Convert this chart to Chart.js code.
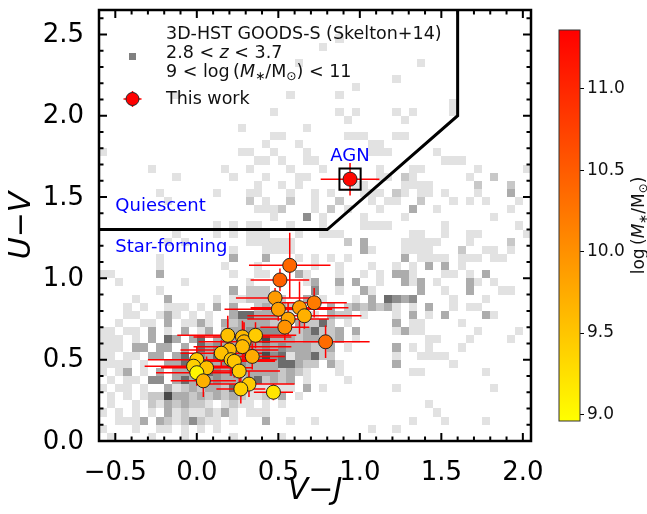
<!DOCTYPE html>
<html>
<head>
<meta charset="utf-8">
<script src="https://cdn.jsdelivr.net/npm/chart.js@4.4.0/dist/chart.umd.min.js"></script>
<style>
  html, body { margin: 0; padding: 0; background: #fff; }
  #wrap { position: relative; width: 647px; height: 514px; }
  #uvj { position: absolute; left: 0; top: 0; }
  #cbar { position: absolute; left: 540px; top: 0; }
</style>
</head>
<body>
<div id="wrap">
  <canvas id="uvj" width="647" height="514"></canvas>
  <canvas id="cbar" width="107" height="514"></canvas>
</div>
<script>
// axis limits and ticks
const vjMin = -0.6, vjMax = 2.05;
const uvMin = 0, uvMax = 2.65;
const vjTicks = [-0.5, 0, 0.5, 1, 1.5, 2];
const uvTicks = [0, 0.5, 1, 1.5, 2, 2.5];

// 3D-HST GOODS-S (Skelton+14) counts in 0.05 x 0.05 bins.
// one string per U-V row, top row first; one digit per V-J column from vjMin
// (0 = empty ... 6 = densest)
const binSize = 0.05;
const skeltonRows = [
  "000000000000000000 000000000000000000 00000000000000000", // 2.60
  "000000000000000000 000000000000000000 00000000000000000",
  "000000000000000000 000000000000000000 00000000000000000",
  "000000000000000000 000000000001000000 00000000000000000",
  "000000000000000000 000000000100000000 00000000000000000",
  "000000000000000000 000000000000000000 00000000000000000",
  "000000000000000000 000000100000000000 00010000000000000",
  "000000000000000000 000000000000000000 00000000000000000",
  "000000000000000000 000000000000000000 10000000000000000",
  "000000000000000000 000000000000010000 00000000000000000",
  "000000000100000000 000001000001000000 00000000000000000",
  "000000000000000000 000000000000000000 00000001000000000",
  "000000000000000000 000100000001010000 10100001000000000", // 2.00
  "000000000000000000 000000000000100000 01000000000000000",
  "000000000000000001 000000010000000000 00000000000000000",
  "000000000000000000 000110000000111000 11000000000000000",
  "000000000000000000 001000100000000110 00000000000000000",
  "100000000000000001 100100010000000111 00000100000000000",
  "000000000000000000 011010011000000000 00000011100000000",
  "000000100000000100 100001000100000010 00110000001000001",
  "000000000100000010 001000110000100011 02100000010020000",
  "000000000000000000 010010100000011000 01111000002000200",
  "000000010000001000 110001001010001110 21011010001000300", // 1.50
  "000000001000000000 201002001002000101 10020001010100010",
  "000000000000000000 011120001020100010 00300100000000100",
  "000000000000000000 000100040100001000 01000000000010000",
  "000000000000001010 110001000100001111 00000010000000010",
  "000000000100001010 111000100111000000 00110010011000001",
  "000000001010000000 111111000000203000 01111100010000200",
  "000000000000000010 001111000000003100 01111000200110100",
  "000000010000000030 003000101010100000 03011110111011000",
  "000000010000000100 010003001001000100 10103030100000000",
  "110000030000000010 011000310001001010 33100011010300000", // 1.00
  "001000000010000000 100000013003030010 03130100031010000",
  "000000010000000030 222000004001003100 00030010030001100",
  "000010003000001011 222220030100010305 43400001000100000",
  "000101001110103030 023232200030232323 10103001011000000",
  "000110013101010035 533301011032201000 10301030000310000",
  "001001103011310323 333220322520100000 30110000100000000",
  "110110301030130233 444442235223030000 13110000001000010",
  "111010305303503434 446333233223010000 00001100010000100",
  "111033033030534334 434343332230100000 30101000100000000",
  "110110330350435434 446451335220000000 10011110000000000", // 0.50
  "111101003353443454 333355322031000000 30000001000000000",
  "101301030333454343 333323210001000000 00110000000100000",
  "010110440353334332 352323010000100000 00000000000000000",
  "101101003123233253 111111030100000000 10000000000010000",
  "010101226332323232 112030100000000000 00000000000000000",
  "010010213232210121 101010000000000000 00001000000000000",
  "101010103121121310 111000000000000000 00000100000000000",
  "001113032124211010 003001001000000000 00100010000100000",
  "100010011010101000 000000000000000100 10000000000000000",
  "010000100010000010 000010000000000000 00000000000000000"  // 0.00
];
const greyLevels = ['#ffffff', '#e2e2e2', '#c8c8c8', '#acacac', '#8e8e8e', '#6c6c6c', '#484848'];

// this work
const vjSample   = [0.57, 0.51, 0.48, 0.50, 0.63, 0.72, 0.66, 0.56, 0.54, 0.79, 0.19, 0.28, 0.29, 0.36, 0.28,
                    0.20, 0.15, 0.21, 0.34, 0.23, 0.00, -0.02, 0.06, 0.26, 0.00, 0.04, 0.32, 0.27, 0.47];
const uvSample   = [1.08, 0.99, 0.88, 0.81, 0.82, 0.85, 0.77, 0.75, 0.70, 0.61, 0.65, 0.64, 0.61, 0.65, 0.58,
                    0.56, 0.54, 0.50, 0.52, 0.49, 0.50, 0.46, 0.45, 0.43, 0.42, 0.37, 0.35, 0.32, 0.30];
const vjErrSample = [0.25, 0.18, 0.24, 0.33, 0.30, 0.20, 0.35, 0.25, 0.15, 0.27, 0.31, 0.30, 0.28, 0.25, 0.30,
                     0.30, 0.25, 0.28, 0.20, 0.25, 0.30, 0.30, 0.28, 0.25, 0.25, 0.20, 0.28, 0.15, 0.12];
const uvErrSample = [0.20, 0.07, 0.06, 0.07, 0.16, 0.09, 0.08, 0.10, 0.08, 0.10, 0.12, 0.10, 0.12, 0.08, 0.08,
                     0.10, 0.08, 0.10, 0.08, 0.10, 0.08, 0.06, 0.07, 0.07, 0.08, 0.10, 0.08, 0.09, 0.05];
const massSample = [10.40, 10.45, 9.90, 9.85, 9.90, 10.20, 9.70, 9.80, 10.00, 10.35, 9.55, 9.60, 9.65, 9.45, 9.60,
                    9.60, 9.55, 9.50, 9.75, 9.50, 9.45, 9.40, 9.55, 9.45, 9.05, 9.70, 9.45, 9.40, 9.20];

// the AGN
const vjAgn = [0.94];
const uvAgn = [1.61];
const vjErrAgn = [0.18];
const uvErrAgn = [0.10];
const massAgn = [11.30];

// quiescent selection (U-V > 1.3, V-J < 1.6, U-V > 0.88 (V-J) + 0.59)
const wedgeVJ = [-0.6, 0.8, 1.6, 1.6];
const wedgeUV = [1.3, 1.3, 2.0, 2.65];

// colour bar
const massMin = 8.96, massMax = 11.36;
const massTicks = [9.0, 9.5, 10.0, 10.5, 11.0];

const FONT = '"DejaVu Sans", "Liberation Sans", sans-serif';

// matplotlib autumn_r: yellow -> red
function massColor(m) {
  const t = Math.min(1, Math.max(0, (m - massMin) / (massMax - massMin)));
  return 'rgb(255,' + Math.round(255 * (1 - t)) + ',0)';
}

function fmtTick(v) {
  if (Math.abs(v) < 1e-9) v = 0;
  return v.toFixed(1).replace('-', '\u2212');
}

// text made of plain / italic / subscript pieces
function richWidth(ctx, parts, size) {
  let w = 0;
  for (const p of parts) {
    ctx.font = (p.it ? 'italic ' : '') + (p.sub ? size * 0.7 : size) + 'px ' + FONT;
    w += ctx.measureText(p.t).width;
  }
  return w;
}
function drawRich(ctx, parts, x, y, size) {
  let cx = x;
  for (const p of parts) {
    const fs = p.sub ? size * 0.7 : size;
    ctx.font = (p.it ? 'italic ' : '') + fs + 'px ' + FONT;
    ctx.fillText(p.t, cx, y + (p.sub ? size * 0.25 : 0));
    cx += ctx.measureText(p.t).width;
  }
}
const massLabel = [
  { t: 'log\u2009(' }, { t: 'M', it: true }, { t: '\u2217', sub: true },
  { t: '/M' }, { t: '\u2299', sub: true }, { t: ')' }
];

const sampleColors = massSample.map(massColor);
const samplePoints = vjSample.map((v, i) => ({ x: v, y: uvSample[i] }));
const agnPoints = vjAgn.map((v, i) => ({ x: v, y: uvAgn[i] }));
const wedgePoints = wedgeVJ.map((v, i) => ({ x: v, y: wedgeUV[i] }));

function errorBars(ctx, xs, ys, xe, ye, sx, sy) {
  ctx.strokeStyle = '#ff0000';
  ctx.lineWidth = 1.5;
  ctx.beginPath();
  for (let i = 0; i < xs.length; i++) {
    const px = sx.getPixelForValue(xs[i]), py = sy.getPixelForValue(ys[i]);
    ctx.moveTo(sx.getPixelForValue(xs[i] - xe[i]), py);
    ctx.lineTo(sx.getPixelForValue(xs[i] + xe[i]), py);
    ctx.moveTo(px, sy.getPixelForValue(ys[i] - ye[i]));
    ctx.lineTo(px, sy.getPixelForValue(ys[i] + ye[i]));
  }
  ctx.stroke();
}

// background histogram + error bars, below the datasets
const backgroundPlugin = {
  id: 'background',
  beforeDatasetsDraw(chart) {
    const { ctx, chartArea: a, scales: { x, y } } = chart;
    ctx.save();
    ctx.beginPath();
    ctx.rect(a.left, a.top, a.width, a.height);
    ctx.clip();
    const nRows = skeltonRows.length;
    skeltonRows.forEach((s, i) => {
      const row = s.replace(/ /g, '');
      const r = nRows - 1 - i;
      const y0 = Math.round(y.getPixelForValue(uvMin + r * binSize));
      const y1 = Math.round(y.getPixelForValue(uvMin + (r + 1) * binSize));
      for (let c = 0; c < row.length; c++) {
        const lev = +row[c];
        if (!lev) continue;
        const x0 = Math.round(x.getPixelForValue(vjMin + c * binSize));
        const x1 = Math.round(x.getPixelForValue(vjMin + (c + 1) * binSize));
        ctx.fillStyle = greyLevels[lev];
        ctx.fillRect(x0, y1, x1 - x0, y0 - y1);
      }
    });
    errorBars(ctx, vjSample, uvSample, vjErrSample, uvErrSample, x, y);
    errorBars(ctx, vjAgn, uvAgn, vjErrAgn, uvErrAgn, x, y);
    ctx.restore();
  }
};

// frame, inward ticks on all sides, y tick labels, legend and region labels
const framePlugin = {
  id: 'frame',
  afterDatasetsDraw(chart) {
    const { ctx, chartArea: a, scales: { x, y } } = chart;
    ctx.save();
    ctx.strokeStyle = '#000';
    ctx.lineWidth = 2;
    ctx.beginPath();
    const ticksOn = (scale, horizontal) => {
      const step = 0.1;
      for (let k = Math.ceil(scale.min / step - 1e-6); k <= Math.floor(scale.max / step + 1e-6); k++) {
        const v = k * step;
        const major = Math.abs(v / 0.5 - Math.round(v / 0.5)) < 1e-6;
        const len = major ? 8 : 4.5;
        const p = scale.getPixelForValue(v);
        if (horizontal) {
          ctx.moveTo(p, a.bottom); ctx.lineTo(p, a.bottom - len);
          ctx.moveTo(p, a.top); ctx.lineTo(p, a.top + len);
        } else {
          ctx.moveTo(a.left, p); ctx.lineTo(a.left + len, p);
          ctx.moveTo(a.right, p); ctx.lineTo(a.right - len, p);
        }
      }
    };
    ticksOn(x, true);
    ticksOn(y, false);
    ctx.stroke();
    ctx.lineWidth = 2.5;
    ctx.strokeRect(a.left, a.top, a.width, a.height);

    // y tick labels
    ctx.fillStyle = '#000';
    ctx.font = '26px ' + FONT;
    ctx.textAlign = 'right';
    ctx.textBaseline = 'middle';
    uvTicks.forEach(v => ctx.fillText(fmtTick(v), a.left - 15, y.getPixelForValue(v) + 1));

    // region labels
    ctx.fillStyle = '#0000ff';
    ctx.font = '18px ' + FONT;
    ctx.textAlign = 'left';
    ctx.fillText('Quiescent', x.getPixelForValue(-0.5), y.getPixelForValue(1.44));
    ctx.fillText('Star-forming', x.getPixelForValue(-0.5), y.getPixelForValue(1.19));
    ctx.textAlign = 'center';
    ctx.fillText('AGN', x.getPixelForValue(vjAgn[0]), y.getPixelForValue(1.75));

    // legend
    const lx = a.left + 33.5, tx = a.left + 67;
    ctx.fillStyle = '#808080';
    ctx.fillRect(lx - 3.5, a.top + 43, 7, 7);
    ctx.fillStyle = '#111';
    ctx.textAlign = 'left';
    const fs = 17.5;
    ctx.font = fs + 'px ' + FONT;
    ctx.fillText('3D-HST GOODS-S (Skelton+14)', tx, a.top + 24);
    drawRich(ctx, [{ t: '2.8 < ' }, { t: 'z', it: true }, { t: ' < 3.7' }], tx, a.top + 43, fs);
    drawRich(ctx, [{ t: '9 < ' }].concat(massLabel, [{ t: ' < 11' }]), tx, a.top + 62.5, fs);
    ctx.font = fs + 'px ' + FONT;
    ctx.fillText('This work', tx, a.top + 89.5);
    const my = a.top + 89;
    ctx.strokeStyle = '#ff0000';
    ctx.lineWidth = 1.5;
    ctx.beginPath();
    ctx.moveTo(lx - 9, my); ctx.lineTo(lx + 9, my);
    ctx.moveTo(lx, my - 8); ctx.lineTo(lx, my + 8);
    ctx.stroke();
    ctx.beginPath();
    ctx.arc(lx, my, 6.5, 0, Math.PI * 2);
    ctx.fillStyle = '#ff0000';
    ctx.fill();
    ctx.strokeStyle = '#222';
    ctx.lineWidth = 1;
    ctx.stroke();
    ctx.restore();
  }
};

new Chart(document.getElementById('uvj'), {
  type: 'scatter',
  data: {
    datasets: [
      {
        label: 'This work',
        data: samplePoints,
        pointRadius: 7,
        pointBackgroundColor: sampleColors,
        pointBorderColor: '#222',
        pointBorderWidth: 1
      },
      {
        label: 'AGN',
        data: agnPoints,
        pointRadius: 7,
        pointBackgroundColor: massAgn.map(massColor),
        pointBorderColor: '#222',
        pointBorderWidth: 1
      },
      {
        label: 'AGN box',
        data: agnPoints,
        pointStyle: 'rect',
        pointRadius: 15,
        pointBackgroundColor: 'rgba(0,0,0,0)',
        pointBorderColor: '#000',
        pointBorderWidth: 2
      },
      {
        label: 'UVJ wedge',
        data: wedgePoints,
        showLine: true,
        borderColor: '#000',
        borderWidth: 3,
        pointRadius: 0,
        fill: false
      }
    ]
  },
  options: {
    responsive: false,
    animation: false,
    events: [],
    layout: { autoPadding: false, padding: { left: 0, right: 116, top: 10, bottom: 0 } },
    plugins: { legend: { display: false }, tooltip: { enabled: false } },
    scales: {
      x: {
        type: 'linear',
        min: vjMin,
        max: vjMax,
        afterFit(s) { s.height = 73; s.paddingLeft = 0; s.paddingRight = 0; },
        afterBuildTicks(s) { s.ticks = vjTicks.map(v => ({ value: v })); },
        grid: { display: false },
        border: { display: false },
        ticks: { padding: 9, font: { family: FONT, size: 26 }, color: '#000', maxRotation: 0, autoSkip: false, callback: fmtTick },
        title: {
          display: true, text: 'V\u2212J', color: '#000',
          font: { family: FONT, size: 30, style: 'italic' },
          padding: { top: 0, bottom: 5 }
        }
      },
      y: {
        type: 'linear',
        min: uvMin,
        max: uvMax,
        afterFit(s) { s.width = 99; s.paddingTop = 0; s.paddingBottom = 0; },
        afterBuildTicks(s) { s.ticks = uvTicks.map(v => ({ value: v })); },
        grid: { display: false },
        border: { display: false },
        ticks: { display: false },
        title: {
          display: true, text: 'U\u2212V', color: '#000',
          font: { family: FONT, size: 30, style: 'italic' },
          padding: { top: 4, bottom: 0 }
        }
      }
    }
  },
  plugins: [backgroundPlugin, framePlugin]
});

// colour bar
const colorbarPlugin = {
  id: 'colorbar',
  beforeDatasetsDraw(chart) {
    const { ctx, chartArea: a, scales: { y } } = chart;
    const top = y.getPixelForValue(massMax), bottom = y.getPixelForValue(massMin);
    const g = ctx.createLinearGradient(0, bottom, 0, top);
    g.addColorStop(0, massColor(massMin));
    g.addColorStop(1, massColor(massMax));
    ctx.save();
    ctx.fillStyle = g;
    ctx.fillRect(a.left, top, a.width, bottom - top);
    ctx.strokeStyle = '#333';
    ctx.lineWidth = 1;
    ctx.strokeRect(a.left, top, a.width, bottom - top);
    // label
    const size = 17;
    ctx.translate(100, (top + bottom) / 2);
    ctx.rotate(-Math.PI / 2);
    ctx.fillStyle = '#111';
    ctx.textBaseline = 'middle';
    ctx.textAlign = 'left';
    drawRich(ctx, massLabel, -richWidth(ctx, massLabel, size) / 2, 0, size);
    ctx.restore();
  }
};

new Chart(document.getElementById('cbar'), {
  type: 'scatter',
  data: { datasets: [] },
  options: {
    responsive: false,
    animation: false,
    events: [],
    layout: { autoPadding: false, padding: { left: 19, right: 0, top: 30, bottom: 93 } },
    plugins: { legend: { display: false }, tooltip: { enabled: false } },
    scales: {
      x: { display: false, min: 0, max: 1 },
      y: {
        position: 'right',
        min: massMin,
        max: massMax,
        afterFit(s) { s.width = 67; s.paddingTop = 0; s.paddingBottom = 0; },
        afterBuildTicks(s) { s.ticks = massTicks.map(v => ({ value: v })); },
        grid: { display: true, drawOnChartArea: false, drawTicks: true, tickLength: 4, color: '#000', lineWidth: 1 },
        border: { display: false },
        ticks: { padding: 3, font: { family: FONT, size: 17 }, color: '#111', callback: v => v.toFixed(1) }
      }
    }
  },
  plugins: [colorbarPlugin]
});
</script>
</body>
</html>
